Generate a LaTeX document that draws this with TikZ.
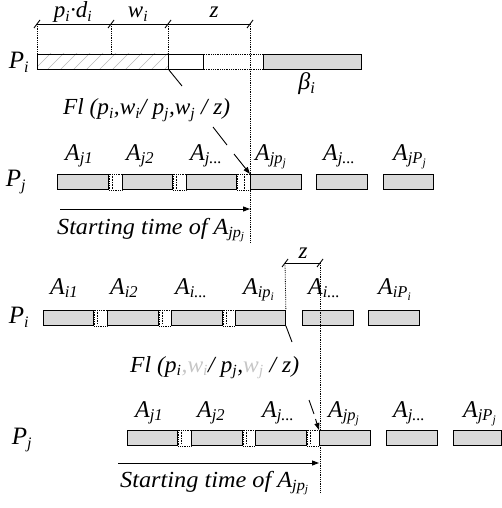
\documentclass[tikz,border=0pt]{standalone}
\usepackage{fontspec}
\usepackage{graphicx}
\setmainfont{Liberation Serif}
\usetikzlibrary{arrows.meta}
\DeclareMathSizes{24}{24}{16.5}{12}
\DeclareMathSizes{23}{23}{15.5}{11}
\DeclareMathSizes{25}{25}{16}{12}
\newcommand\sub[1]{\textsubscript{#1}}
\newcommand\fitw[2]{\resizebox{#1}{\height}{#2}}
\newcommand\pbar[5]{\node[#5, anchor=north west, minimum width=#3pt-#2pt] (#1) at (#2,#4) {};}
\tikzset{
  bar/.style={draw, line width=0.9pt, fill=gray!30, inner sep=0pt, minimum height=15pt},
  wbar/.style={draw, line width=0.9pt, fill=white, inner sep=0pt, minimum height=15pt},
  gap/.style={densely dotted, line width=0.8pt},
  thingap/.style={densely dotted, line width=0.6pt},
  lab/.style={font=\fontsize{24}{24}\selectfont\itshape, inner sep=0pt, anchor=base west},
  dlab/.style={font=\fontsize{23}{23}\selectfont\itshape, inner sep=0pt, anchor=base},
  flab/.style={font=\fontsize{23}{23}\selectfont\itshape, inner sep=0pt, anchor=base west},
  slab/.style={font=\fontsize{23}{23}\selectfont\itshape, inner sep=0pt, anchor=base west},
  plab/.style={font=\fontsize{25}{25}\selectfont\itshape, inner sep=0pt},
  dim/.style={line width=0.9pt},
  tick/.style={line width=0.9pt},
  ptr/.style={line width=0.9pt},
  arr/.style={line width=0.9pt, -{Triangle[length=7pt,width=5pt]}},
}
\begin{document}
\begin{tikzpicture}[x=1pt,y=-1pt]
\useasboundingbox (0,0) rectangle (501,508);
% ---------- top: P_i ----------
\coordinate (d0) at (37,24);
\coordinate (d1) at (111,24);
\coordinate (d2) at (168,24);
\coordinate (d3) at (250,24);
\draw[dim] (d0) -- (d3);
\foreach \c in {d0,d1,d2,d3} \draw[tick] (\c) ++(-3,4) -- ++(6,-8);
\node[dlab] (lpd) at (73,18) {p\sub{i}·d\sub{i}};
\node[dlab] (lw) at (138,18) {w\sub{i}};
\node[dlab] (lz) at (214,18) {z};
% hatched bar
\pbar{hb}{37}{168}{54}{wbar}
\begin{scope}
  \clip (hb.south west) rectangle (hb.north east);
  \foreach \k in {0,...,13} \draw[gray!55, line width=0.5pt] (30+\k*13,74) -- ++(25,-25);
\end{scope}
\draw[line width=0.9pt] (hb.south west) rectangle (hb.north east);
\pbar{wb}{168}{203}{54}{wbar}
\pbar{gb}{263}{361}{54}{bar}
\draw[gap] (wb.north east) -- (gb.north west);
\draw[gap] (wb.south east) -- (gb.south west);
\draw[gap] (d0) -- (d0 |- hb.north);
\draw[gap] (d1) -- (d1 |- hb.north);
\draw[gap] (d2) -- (d2 |- hb.north);
\coordinate (v1) at (250,243);
\draw[gap] (d3) -- (v1);
\node[lab, anchor=base] (lbeta) at (307,90) {β\sub{i}};
\node[plab] (Pi1) at (19,62) {P\sub{i}};
\coordinate (f1a) at (182,86);
\draw[ptr] (hb.south east) -- (f1a);
\node[flab] (fl1) at (63,115) {\fitw{167pt}{Fl (p\sub{i},w\sub{i}/ p\sub{j},w\sub{j} / z)}};
% ---------- P_j row 1 ----------
\pbar{a1}{57}{108}{174}{bar}
\pbar{a2}{122}{172}{174}{bar}
\pbar{a3}{186}{236}{174}{bar}
\pbar{a4}{250}{301}{174}{bar}
\pbar{a5}{316}{367}{174}{bar}
\pbar{a6}{383}{433}{174}{bar}
\draw[gap] (a1.north east) rectangle (a2.south west);
\draw[gap] (a2.north east) rectangle (a3.south west);
\draw[gap] (a3.north east) rectangle (a4.south west);
\draw[thingap] (112,174) -- (112,189);
\draw[thingap] (176,174) -- (176,189);
\draw[thingap] (244,174) -- (244,189);
\node[lab] (la1) at (65,160) {A\sub{j1}};
\node[lab] (la2) at (126,160) {A\sub{j2}};
\node[lab] (la3) at (190,160) {A\sub{j...}};
\node[lab] (la4) at (255,160) {A\sub{jp\sub{j}}};
\node[lab] (la5) at (323,160) {A\sub{j...}};
\node[lab] (la6) at (393,160) {A\sub{jP\sub{j}}};
\node[plab] (Pj1) at (16,182) {P\sub{j}};
\coordinate (q1a) at (213,127);
\coordinate (q1b) at (227,145);
\coordinate (q1c) at (234,154);
\draw[ptr] (q1a) -- (q1b);
\draw[arr] (q1c) -- (a4.north west);
\coordinate (s1a) at (60,209);
\coordinate (s1b) at (250,209);
\draw[arr] (s1a) -- (s1b);
\node[slab] (st1) at (57,234) {\fitw{188pt}{Starting time of A\sub{jp\sub{j}}}};
% ---------- P_i row 2 ----------
\coordinate (z0) at (285,263);
\coordinate (z1) at (320,263);
\draw[dim] (z0) -- (z1);
\foreach \c in {z0,z1} \draw[tick] (\c) ++(-3,4) -- ++(6,-8);
\node[dlab] (lz2) at (303,258) {z};
\pbar{b1}{43}{93}{310}{bar}
\pbar{b2}{107}{158}{310}{bar}
\pbar{b3}{171}{222}{310}{bar}
\pbar{b4}{235}{285}{310}{bar}
\pbar{b5}{302}{353}{310}{bar}
\pbar{b6}{368}{419}{310}{bar}
\draw[gap] (b1.north east) rectangle (b2.south west);
\draw[gap] (b2.north east) rectangle (b3.south west);
\draw[gap] (b3.north east) rectangle (b4.south west);
\draw[thingap] (97,310) -- (97,324);
\draw[thingap] (162,310) -- (162,324);
\draw[thingap] (226,310) -- (226,324);
\draw[gap] (z0) -- (b4.north east);
\coordinate (v2) at (320,492);
\draw[gap] (z1) -- (v2);
\node[lab] (lb1) at (50,294) {A\sub{i1}};
\node[lab] (lb2) at (110,294) {A\sub{i2}};
\node[lab] (lb3) at (175,294) {A\sub{i...}};
\node[lab] (lb4) at (243,294) {A\sub{ip\sub{i}}};
\node[lab] (lb5) at (308,294) {A\sub{i...}};
\node[lab] (lb6) at (378,294) {A\sub{iP\sub{i}}};
\node[plab] (Pi2) at (19,317) {P\sub{i}};
\coordinate (f2a) at (292,342);
\draw[ptr] (b4.south east) -- (f2a);
\node[flab] (fl2) at (130,372) {\fitw{169pt}{Fl (p\sub{i}\textcolor{gray!45}{,w\sub{i}}/ p\sub{j},\textcolor{gray!45}{w\sub{j}} / z)}};
% ---------- P_j row 2 ----------
\pbar{c1}{127}{177}{430}{bar}
\pbar{c2}{191}{242}{430}{bar}
\pbar{c3}{255}{306}{430}{bar}
\pbar{c4}{319}{370}{430}{bar}
\pbar{c5}{386}{437}{430}{bar}
\pbar{c6}{453}{501}{430}{bar}
\draw[gap] (c1.north east) rectangle (c2.south west);
\draw[gap] (c2.north east) rectangle (c3.south west);
\draw[gap] (c3.north east) rectangle (c4.south west);
\draw[thingap] (181,430) -- (181,444);
\draw[thingap] (246,430) -- (246,444);
\draw[thingap] (310,430) -- (310,444);
\node[lab] (lc1) at (135,417) {A\sub{j1}};
\node[lab] (lc2) at (197,417) {A\sub{j2}};
\node[lab] (lc3) at (262,417) {A\sub{j...}};
\node[lab] (lc4) at (328,417) {A\sub{jp\sub{j}}};
\node[lab] (lc5) at (393,417) {A\sub{j...}};
\node[lab] (lc6) at (463,417) {A\sub{jP\sub{j}}};
\node[plab] (Pj2) at (22,440) {P\sub{j}};
\coordinate (q2a) at (309,400);
\coordinate (q2b) at (314,414);
\coordinate (q2c) at (315.5,419);
\draw[ptr] (q2a) -- (q2b);
\draw[arr] (q2c) -- (c4.north west);
\coordinate (s2a) at (118,463);
\coordinate (s2b) at (319,463);
\draw[arr] (s2a) -- (s2b);
\node[slab] (st2) at (120,487) {\fitw{189pt}{Starting time of A\sub{jp\sub{j}}}};
\end{tikzpicture}
\end{document}
